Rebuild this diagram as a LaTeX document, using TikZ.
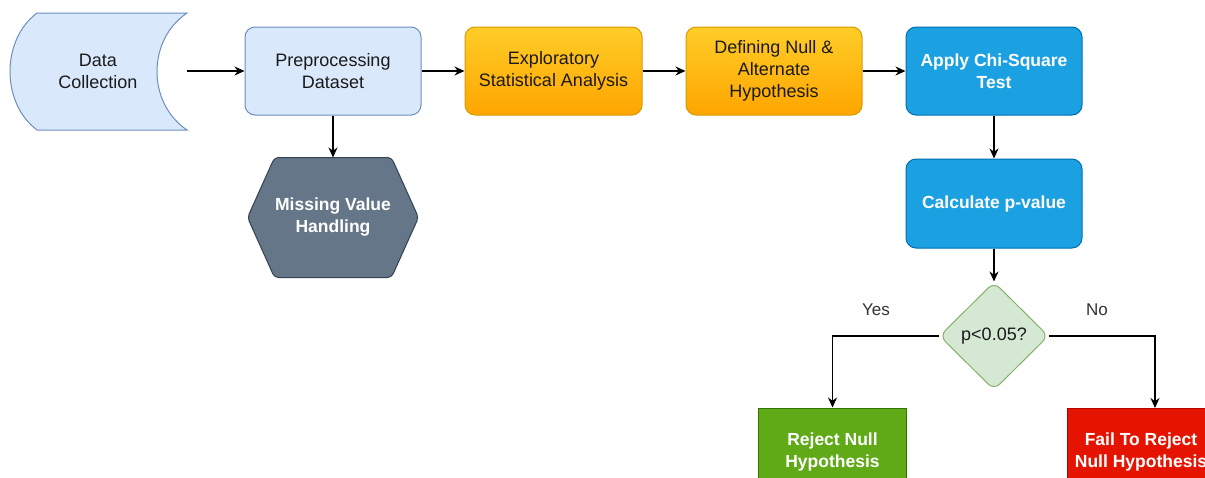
\documentclass[tikz,border=0pt]{standalone}
\usepackage{fontspec}
\setmainfont{Liberation Sans}
\usetikzlibrary{arrows.meta,shapes.geometric}
\definecolor{bluefill}{HTML}{DAE8FC}
\definecolor{bluestroke}{HTML}{6C8EBF}
\definecolor{orangetop}{HTML}{FFCD28}
\definecolor{orangebot}{HTML}{FFA500}
\definecolor{orangestroke}{HTML}{D79B00}
\definecolor{cyanfill}{HTML}{1BA1E2}
\definecolor{cyanstroke}{HTML}{006EAF}
\definecolor{slatefill}{HTML}{647687}
\definecolor{slatestroke}{HTML}{314354}
\definecolor{greenfill}{HTML}{D5E8D4}
\definecolor{greenstroke}{HTML}{82B366}
\definecolor{okfill}{HTML}{60A917}
\definecolor{okstroke}{HTML}{2D7600}
\definecolor{redfill}{HTML}{E51400}
\definecolor{redstroke}{HTML}{B20000}
\definecolor{txt}{HTML}{1A1A1A}
\definecolor{lbl}{HTML}{333333}
\tikzset{
  base/.style={align=center, inner sep=0pt, line width=1pt, font=\fontsize{18}{22}\selectfont, text=txt},
  bluebox/.style={base, rectangle, rounded corners=10pt, draw=bluestroke, fill=bluefill, minimum width=176pt, minimum height=88pt},
  orangebox/.style={base, rectangle, rounded corners=10pt, draw=orangestroke, top color=orangetop, bottom color=orangebot, minimum width=177pt, minimum height=88pt},
  cyanbox/.style={base, rectangle, rounded corners=10pt, draw=cyanstroke, fill=cyanfill, text=white, font=\fontsize{17.5}{22}\selectfont\bfseries, minimum width=176pt, minimum height=88pt},
  resbox/.style={base, rectangle, text=white, font=\fontsize{17.5}{22}\selectfont\bfseries, minimum width=148pt, minimum height=88pt},
  decision/.style={base, diamond, aspect=1, rounded corners=8pt, draw=greenstroke, fill=greenfill, minimum width=109pt, minimum height=108pt, font=\fontsize{18}{22}\selectfont},
  arr/.style={-{Stealth[length=10pt,width=9pt]}, line width=1.4pt, black},
  brlabel/.style={font=\fontsize{17}{20}\selectfont, text=lbl},
}
\begin{document}
\begin{tikzpicture}[x=1pt,y=-1pt]
\clip (0,0) rectangle (1205,477);
\fill[white] (0,0) rectangle (1205,477);
% Data collection (storage shape)
\draw[line width=1pt, draw=bluestroke, fill=bluefill]
  (37,13) -- (187,13) .. controls (147,40) and (147,103) .. (187,130)
  -- (37,130) .. controls (1,103) and (1,40) .. (37,13) -- cycle;
\node[base, minimum width=120pt, minimum height=100pt] (dc) at (98,71.5) {Data\\Collection};
\node[bluebox] (pre) at (333,71) {Preprocessing\\Dataset};
\node[orangebox] (eda) at (553.5,71) {Exploratory\\Statistical Analysis};
\node[orangebox, minimum width=176pt] (hyp) at (774,71) {Defining Null \&\\Alternate\\Hypothesis};
\node[cyanbox] (chi) at (994,71) {Apply Chi-Square\\Test};
\node[cyanbox, minimum height=89pt] (pv) at (994,203.5) {Calculate p-value};
% Missing value hexagon
\node[base, minimum width=170pt, minimum height=119pt] (mv) at (333,217.5) {};
\draw[line width=1pt, draw=slatestroke, fill=slatefill, rounded corners=4pt]
  (mv.west) -- ([xshift=27pt]mv.north west) -- ([xshift=-27pt]mv.north east) -- (mv.east)
  -- ([xshift=-27pt]mv.south east) -- ([xshift=27pt]mv.south west) -- cycle;
\node[base, text=white, font=\fontsize{17.5}{22}\selectfont\bfseries] at (mv.center) {Missing Value\\Handling};
\node[decision] (dec) at (994,336) {p<0.05?};
\node[resbox, draw=okstroke, fill=okfill] (rej) at (832.5,452) {Reject Null\\Hypothesis};
\node[resbox, draw=redstroke, fill=redfill] (fail) at (1141,452) {Fail To Reject\\Null Hypothesis};
% connectors
\draw[arr] (187,71) -- (pre.west);
\draw[arr] (pre) -- (eda);
\draw[arr] (eda) -- (hyp);
\draw[arr] (hyp) -- (chi);
\draw[arr] (pre) -- (mv.north);
\draw[arr] (chi) -- (pv);
\draw[arr] (pv) -- (dec);
\draw[arr] (dec.west) -| (rej.north);
\draw[arr] (dec.east) -| (1155,408);
\node[brlabel] (yes) at (876,310) {Yes};
\node[brlabel] (no) at (1097,310) {No};
\end{tikzpicture}
\end{document}
